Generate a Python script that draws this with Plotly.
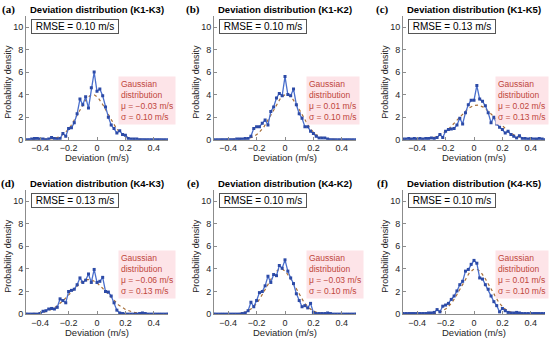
import numpy as np
import plotly.graph_objects as go

# ---------------- data ----------------
X_BINS = [-0.50, -0.48, -0.46, -0.44, -0.42, -0.40, -0.38, -0.36, -0.34, -0.32,
          -0.30, -0.28, -0.26, -0.24, -0.22, -0.20, -0.18, -0.16, -0.14, -0.12,
          -0.10, -0.08, -0.06, -0.04, -0.02, 0.00, 0.02, 0.04, 0.06, 0.08,
          0.10, 0.12, 0.14, 0.16, 0.18, 0.20, 0.22, 0.24, 0.26, 0.28,
          0.30, 0.32, 0.34, 0.36, 0.38, 0.40, 0.42, 0.44, 0.46, 0.48, 0.50]

DENS_A = [0.0, 0.0, 0.05, 0.1, 0.1, 0.05, 0.05, 0.0, 0.05, 0.2,
          0.1, 0.05, 0.1, 0.55, 0.3, 1.0, 1.05, 1.5, 2.3, 3.6,
          3.1, 3.8, 2.8, 4.6, 6.0, 4.3, 4.5, 3.9, 2.9, 2.0,
          1.3, 1.0, 0.6, 0.8, 0.45, 0.4, 0.1, 0.05, 0.05, 0.05,
          0.0, 0.0, 0.0, 0.0, 0.0, 0.0, 0.0, 0.0, 0.0, 0.0, 0.0]
DENS_B = [0.0, 0.0, 0.0, 0.0, 0.0, 0.0, 0.0, 0.0, 0.05, 0.05,
          0.05, 0.1, 0.1, 0.3, 1.0, 1.15, 1.15, 1.45, 1.75, 1.3,
          2.5, 2.9, 3.7, 4.1, 3.9, 5.6, 4.0, 3.9, 4.5, 3.1,
          2.3, 1.9, 1.15, 1.15, 0.75, 0.55, 0.3, 0.15, 0.15, 0.15,
          0.05, 0.0, 0.0, 0.0, 0.0, 0.0, 0.0, 0.0, 0.0, 0.0, 0.0]
DENS_C = [0.05, 0.05, 0.1, 0.05, 0.1, 0.05, 0.1, 0.05, 0.1, 0.1,
          0.15, 0.1, 0.2, 0.45, 0.2, 0.75, 0.9, 0.95, 1.0, 1.3,
          1.9, 1.4, 2.4, 3.1, 3.5, 3.5, 4.8, 3.6, 3.4, 3.0,
          2.4, 1.5, 2.0, 1.4, 1.1, 0.9, 0.6, 0.75, 0.45, 0.3,
          0.15, 0.35, 0.1, 0.1, 0.05, 0.1, 0.05, 0.05, 0.1, 0.05, 0.0]
DENS_D = [0.0, 0.0, 0.0, 0.0, 0.0, 0.05, 0.25, 0.3, 0.45, 0.5,
          0.45, 0.6, 1.35, 1.2, 1.0, 2.0, 2.1, 2.2, 2.6, 3.2,
          2.8, 3.0, 3.55, 2.8, 3.95, 2.8, 2.9, 3.25, 2.0, 1.95,
          1.6, 1.0, 0.35, 0.1, 0.05, 0.0, 0.0, 0.0, 0.0, 0.0,
          0.05, 0.1, 0.05, 0.0, 0.0, 0.0, 0.0, 0.0, 0.0, 0.0, 0.0]
DENS_E = [0.0, 0.0, 0.0, 0.0, 0.0, 0.0, 0.0, 0.0, 0.0, 0.0,
          0.05, 0.1, 0.3, 1.05, 0.65, 1.2, 1.9, 2.0, 2.5, 3.35,
          2.8, 3.5, 3.4, 4.3, 4.05, 4.8, 3.8, 3.2, 2.7, 1.8,
          1.2, 0.65, 0.75, 0.55, 0.95, 0.15, 0.05, 0.05, 0.05, 0.05,
          0.1, 0.05, 0.0, 0.0, 0.0, 0.0, 0.0, 0.0, 0.0, 0.0, 0.0]
DENS_F = [0.05, 0.05, 0.05, 0.05, 0.05, 0.05, 0.05, 0.05, 0.05, 0.1,
          0.1, 0.15, 0.4, 0.2, 0.7, 0.8, 0.95, 1.3, 1.6, 2.05,
          2.6, 2.9, 3.8, 3.95, 4.4, 4.75, 4.5, 3.2, 3.1, 2.6,
          2.2, 1.6, 1.1, 0.75, 0.2, 0.5, 0.3, 0.15, 0.1, 0.1,
          0.15, 0.1, 0.05, 0.05, 0.05, 0.05, 0.05, 0.05, 0.05, 0.05, 0.05]

PAIRS = ["K1-K3", "K1-K2", "K1-K5", "K4-K3", "K4-K2", "K4-K5"]
LETTERS = ["(a)", "(b)", "(c)", "(d)", "(e)", "(f)"]
DENSITIES = [DENS_A, DENS_B, DENS_C, DENS_D, DENS_E, DENS_F]
RMSE = [0.10, 0.10, 0.13, 0.13, 0.10, 0.10]
MU = [-0.03, 0.01, 0.02, -0.06, -0.03, 0.01]
SIGMA = [0.10, 0.10, 0.13, 0.13, 0.10, 0.10]

X_TICKS = [-0.4, -0.2, 0, 0.2, 0.4]
Y_TICKS = [0, 2, 4, 6, 8, 10]

# ---------------- layout geometry ----------------
W, H = 550, 347
COL_PX = [(26, 168), (214, 356), (403, 545)]
ROW_PX = [(16, 141.7), (192.5, 318.7)]     # (top, bottom) in px
TITLE_Y_PX = [10, 186]
XLAB_Y_PX = [160, 337]
LETTER_X_PX = [8, 193, 382]

SANS = "Liberation Sans, Arial, sans-serif"
SERIF = "Liberation Serif, Times New Roman, serif"
TXT = "#262626"
AX = "#8c8c8c"

fig = go.Figure()
annotations = []


def fmt(v):
    s = f"{v:.2f}"
    return s.replace("-", "\u2212")


for i in range(6):
    r, c = divmod(i, 3)
    n = i + 1
    xa = "x" if n == 1 else f"x{n}"
    ya = "y" if n == 1 else f"y{n}"
    x0, x1 = COL_PX[c]
    top, bot = ROW_PX[r]
    dom_x = [x0 / W, x1 / W]
    dom_y = [(H - bot) / H, (H - top) / H]

    axis_common = dict(showgrid=False, zeroline=False, showline=True, linecolor=AX,
                       linewidth=1, ticks="inside", ticklen=3, tickcolor=AX,
                       tickfont=dict(family=SANS, size=9, color=TXT), mirror=False)
    fig.update_layout(**{
        ("xaxis" if n == 1 else f"xaxis{n}"): dict(domain=dom_x, anchor=ya, range=[-0.5, 0.5],
                                                    tickvals=X_TICKS, **axis_common),
        ("yaxis" if n == 1 else f"yaxis{n}"): dict(domain=dom_y, anchor=xa, range=[0, 11],
                                                    tickvals=Y_TICKS, **axis_common),
    })

    # fitted Gaussian (from the stated mu / sigma)
    gx = np.linspace(-0.5, 0.5, 201)
    gy = np.exp(-0.5 * ((gx - MU[i]) / SIGMA[i]) ** 2) / (SIGMA[i] * np.sqrt(2 * np.pi))
    fig.add_trace(go.Scatter(x=gx, y=gy, xaxis=xa, yaxis=ya, mode="lines",
                             line=dict(color="#a8703a", width=1.2, dash="dot"),
                             showlegend=False, hoverinfo="skip"))
    # measured distribution
    fig.add_trace(go.Scatter(x=X_BINS, y=DENSITIES[i], xaxis=xa, yaxis=ya, mode="lines+markers",
                             line=dict(color="#4a6fcc", width=1.3),
                             marker=dict(symbol="square", size=3, color="#2c4aa6"),
                             showlegend=False))

    xc = (x0 + x1) / 2 / W
    # title
    annotations.append(dict(text=f"<b>Deviation distribution ({PAIRS[i]})</b>", xref="paper", yref="paper",
                            x=xc, y=(H - TITLE_Y_PX[r]) / H, xanchor="center", yanchor="middle",
                            showarrow=False, font=dict(family=SANS, size=9.5, color="#000000")))
    # panel letter
    annotations.append(dict(text=f"<b>{LETTERS[i]}</b>", xref="paper", yref="paper",
                            x=LETTER_X_PX[c] / W, y=(H - TITLE_Y_PX[r]) / H, xanchor="center",
                            yanchor="middle", showarrow=False,
                            font=dict(family=SERIF, size=11, color="#000000")))
    # x label
    annotations.append(dict(text="Deviation (m/s)", xref="paper", yref="paper",
                            x=xc, y=(H - XLAB_Y_PX[r]) / H, xanchor="center", yanchor="middle",
                            showarrow=False, font=dict(family=SANS, size=9.5, color=TXT)))
    # y label
    annotations.append(dict(text="Probability density", xref="paper", yref="paper",
                            x=(x0 - 18) / W, y=(H - (top + bot) / 2 - 4) / H, xanchor="center",
                            yanchor="middle", textangle=-90, showarrow=False,
                            font=dict(family=SANS, size=9, color=TXT)))
    # RMSE box
    annotations.append(dict(text=f"RMSE = {RMSE[i]:.2f} m/s", xref=xa, yref=ya,
                            x=-0.465, y=10.75, xanchor="left", yanchor="top", showarrow=False,
                            width=84, height=11, align="center", bgcolor="#ffffff",
                            bordercolor="#555555", borderwidth=1, borderpad=1,
                            font=dict(family=SANS, size=10, color="#000000")))
    # Gaussian text
    annotations.append(dict(text=(f"Gaussian<br>distribution<br>\u03bc = {fmt(MU[i])} m/s"
                                  f"<br>\u03c3 = {fmt(SIGMA[i])} m/s"),
                            xref=xa, yref=ya, x=0.148, y=5.65, xanchor="left", yanchor="top",
                            showarrow=False, align="left", bgcolor="#fde4e8", borderpad=2,
                            font=dict(family=SANS, size=8.5, color="#c0463c")))

fig.update_layout(width=W, height=H, margin=dict(l=0, r=0, t=0, b=0),
                  paper_bgcolor="#ffffff", plot_bgcolor="#ffffff",
                  annotations=annotations, showlegend=False)

fig.write_html("out.html", config={"displayModeBar": False},
               post_script="document.body.style.margin='0';")
